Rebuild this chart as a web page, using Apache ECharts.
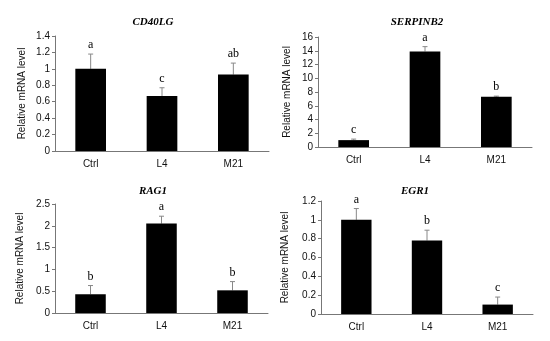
<!DOCTYPE html>
<html><head><meta charset="utf-8">
<script src="https://cdn.jsdelivr.net/npm/echarts@6/dist/echarts.min.js"></script>
<style>html,body{margin:0;padding:0;background:#fff}#c{width:550px;height:341px}</style>
</head><body><div id="c"></div>
<script>
const categories = ['Ctrl', 'L4', 'M21'];
const titles = ['CD40LG', 'SERPINB2', 'RAG1', 'EGR1'];
const cd40lgValues = [1.0, 0.67, 0.93];
const cd40lgErrTop = [1.18, 0.77, 1.07];
const cd40lgLetters = ['a', 'c', 'ab'];
const serpinb2Values = [1.0, 13.9, 7.3];
const serpinb2ErrTop = [1.15, 14.6, 7.4];
const serpinb2Letters = ['c', 'a', 'b'];
const rag1Values = [0.43, 2.05, 0.52];
const rag1ErrTop = [0.63, 2.22, 0.72];
const rag1Letters = ['b', 'a', 'b'];
const egr1Values = [1.0, 0.78, 0.10];
const egr1ErrTop = [1.12, 0.89, 0.18];
const egr1Letters = ['a', 'b', 'c'];
const yMax = [1.4, 16, 2.5, 1.2];
const yInterval = [0.2, 2, 0.5, 0.2];

const panels = [
  {v: cd40lgValues, e: cd40lgErrTop, l: cd40lgLetters},
  {v: serpinb2Values, e: serpinb2ErrTop, l: serpinb2Letters},
  {v: rag1Values, e: rag1ErrTop, l: rag1Letters},
  {v: egr1Values, e: egr1ErrTop, l: egr1Letters}
];
const grids = [
  {left: 55, top: 36, width: 214, height: 115},
  {left: 318, top: 37, width: 214, height: 110},
  {left: 55, top: 204, width: 213, height: 109},
  {left: 321, top: 201, width: 212, height: 113}
];
const titlePos = [[148, 12], [412, 12], [148, 181], [410, 181]];
const nameGaps = [28, 26, 30, 31];

const chart = echarts.init(document.getElementById('c'), null, {renderer: 'canvas'});
const option = {
  animation: false,
  backgroundColor: '#fff',
  title: titles.map((t, i) => ({
    text: t, left: titlePos[i][0], top: titlePos[i][1], textAlign: 'center',
    textStyle: {fontFamily: 'Liberation Serif', fontStyle: 'italic', fontWeight: 'bold', fontSize: 11, color: '#000'}
  })),
  grid: grids,
  xAxis: grids.map((g, i) => ({
    type: 'category', gridIndex: i, data: categories,
    axisLine: {lineStyle: {color: '#777', width: 1}},
    axisTick: {show: false},
    axisLabel: {color: '#111', fontFamily: 'Liberation Sans', fontSize: 10, margin: 8}
  })),
  yAxis: grids.map((g, i) => ({
    type: 'value', gridIndex: i, min: 0, max: yMax[i], interval: yInterval[i],
    name: 'Relative mRNA level', nameLocation: 'middle', nameGap: nameGaps[i],
    nameTextStyle: {color: '#111', fontFamily: 'Liberation Sans', fontSize: 10},
    axisLine: {show: true, lineStyle: {color: '#777', width: 1}},
    axisTick: {show: true, length: 3, lineStyle: {color: '#777'}},
    splitLine: {show: false},
    axisLabel: {color: '#111', fontFamily: 'Liberation Sans', fontSize: 10, margin: 5}
  })),
  series: []
};
panels.forEach((p, i) => {
  option.series.push({
    type: 'bar', xAxisIndex: i, yAxisIndex: i, data: p.v, barWidth: '43%',
    itemStyle: {color: '#000'}
  });
  option.series.push({
    type: 'custom', xAxisIndex: i, yAxisIndex: i,
    data: p.v.map((v, j) => [j, v, p.e[j]]),
    renderItem: function (params, api) {
      const idx = params.dataIndex;
      const base = api.coord([api.value(0), api.value(1)]);
      const top = api.coord([api.value(0), api.value(2)]);
      return {
        type: 'group',
        children: [
          {type: 'line', shape: {x1: base[0], y1: base[1], x2: top[0], y2: top[1]}, style: {stroke: '#888', lineWidth: 1}},
          {type: 'line', shape: {x1: top[0] - 2.5, y1: top[1], x2: top[0] + 2.5, y2: top[1]}, style: {stroke: '#888', lineWidth: 1}},
          {type: 'text', style: {text: p.l[idx], x: top[0], y: top[1] - 3, textAlign: 'center', textVerticalAlign: 'bottom', fill: '#000', font: '12px "Liberation Serif"'}}
        ]
      };
    }
  });
});
chart.setOption(option);
</script></body></html>
